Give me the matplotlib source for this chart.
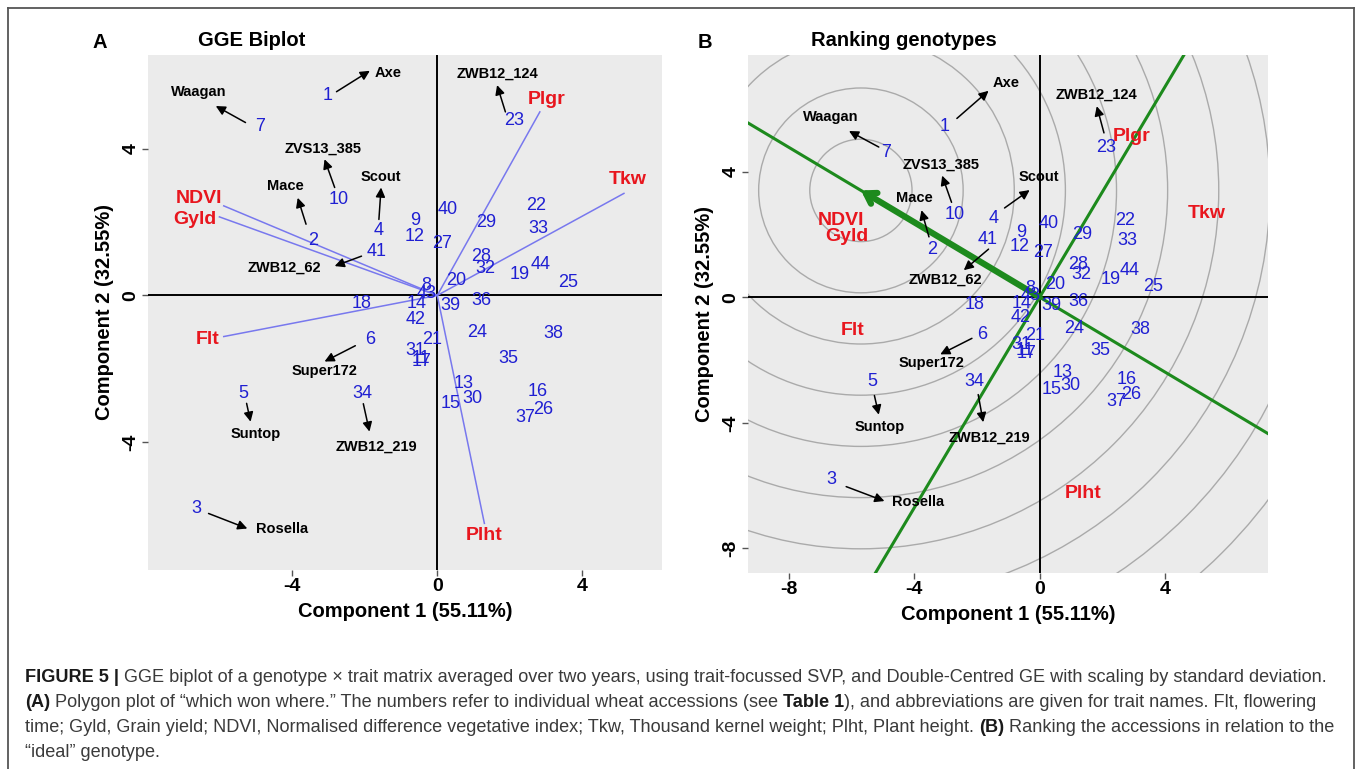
import matplotlib
matplotlib.use('Agg')
import matplotlib.pyplot as plt
from matplotlib.patches import Circle
from matplotlib.lines import Line2D
import numpy as np

plt.rcParams['font.family'] = ['Liberation Sans', 'DejaVu Sans']
plt.rcParams['axes.unicode_minus'] = False

W, H, DPI = 1358, 769, 100

# ---------------- data ----------------
genotype_ids = [1, 2, 3, 4, 5, 6, 7, 8, 9, 10, 11, 12, 13, 14, 15, 16, 17, 18, 19, 20, 21, 22,
                23, 24, 25, 26, 27, 28, 29, 30, 31, 32, 33, 34, 35, 36, 37, 38, 39, 40, 41, 42, 43, 44]
comp1 = [-3.02, -3.43, -6.65, -1.62, -5.34, -1.84, -4.90, -0.30, -0.60, -2.71, -0.46, -0.63,
         0.72, -0.56, 0.37, 2.78, -0.42, -2.09, 2.27, 0.51, -0.14, 2.74, 2.13, 1.10, 3.62, 2.92,
         0.12, 1.21, 1.35, 0.97, -0.60, 1.32, 2.78, -2.07, 1.95, 1.23, 2.43, 3.20, 0.37, 0.30,
         -1.67, -0.60, -0.28, 2.86]
comp2 = [5.44, 1.51, -5.80, 1.78, -2.68, -1.19, 4.60, 0.27, 2.05, 2.62, -1.71, 1.60,
         -2.41, -0.21, -2.95, -2.62, -1.80, -0.23, 0.56, 0.42, -1.21, 2.44, 4.77, -1.01, 0.35, -3.10,
         1.42, 1.05, 2.00, -2.80, -1.50, 0.73, 1.82, -2.68, -1.71, -0.14, -3.32, -1.03, -0.28, 2.35,
         1.21, -0.66, 0.05, 0.85]

trait_names = ['NDVI', 'Gyld', 'Plgr', 'Tkw', 'Flt', 'Plht']
trait_comp1 = [-5.89, -6.01, 2.83, 5.15, -5.89, 1.30]
trait_comp2 = [2.44, 2.14, 5.00, 2.78, -1.12, -6.21]

named_genotypes = ['Axe', 'Waagan', 'ZVS13_385', 'Mace', 'Scout', 'ZWB12_62', 'ZWB12_124',
                   'Super172', 'Suntop', 'ZWB12_219', 'Rosella']
named_ids = [1, 7, 10, 2, 4, 41, 23, 6, 5, 34, 3]

ideal_genotype = (-5.7, 3.4)
circle_step = 1.63
n_circles = 11
pct1, pct2 = 55.11, 32.55

# ---------------- layout (offsets, styles) ----------------
# annotation arrows: tail, head, text offsets (data units) relative to the genotype label
annA = [((0.24, 0.11), (1.16, 0.68), (1.67, 0.61)),
        ((-0.39, 0.11), (-1.21, 0.56), (-1.69, 0.95)),
        ((-0.12, 0.32), (-0.40, 1.09), (-0.45, 1.38)),
        ((-0.19, 0.43), (-0.42, 1.15), (-0.76, 1.47)),
        ((0.01, 0.29), (0.07, 1.16), (0.06, 1.46)),
        ((-0.42, -0.14), (-1.16, -0.41), (-2.55, -0.46)),
        ((-0.25, 0.23), (-0.48, 0.96), (-0.46, 1.28)),
        ((-0.42, -0.18), (-1.27, -0.61), (-1.27, -0.86)),
        ((0.08, -0.26), (0.19, -0.76), (0.33, -1.09)),
        ((0.03, -0.27), (0.20, -1.03), (0.38, -1.44)),
        ((0.34, -0.14), (1.41, -0.55), (2.38, -0.55))]
annB = [((0.38, 0.25), (1.39, 1.13), (1.94, 1.39)),
        ((-0.23, 0.18), (-1.18, 0.69), (-1.75, 1.14)),
        ((-0.10, 0.40), (-0.40, 1.25), (-0.42, 1.60)),
        ((-0.10, 0.41), (-0.34, 1.26), (-0.55, 1.64)),
        ((0.34, 0.34), (1.14, 0.91), (1.44, 1.34)),
        ((0.02, -0.32), (-0.77, -0.99), (-1.34, -1.28)),
        ((-0.08, 0.46), (-0.31, 1.31), (-0.31, 1.69)),
        ((-0.32, -0.12), (-1.33, -0.63), (-1.60, -0.92)),
        ((0.07, -0.45), (0.21, -1.06), (0.25, -1.44)),
        ((0.11, -0.42), (0.27, -1.30), (0.48, -1.78)),
        ((0.48, -0.23), (1.70, -0.69), (2.77, -0.72))]
# label nudges used in panel B only
nudgeB = {4: (0.16, 0.72), 41: (0.02, 0.64)}
trait_label_offA = [(-0.68, 0.20), (-0.67, -0.07), (0.19, 0.35), (0.09, 0.38), (-0.45, -0.07), (-0.02, -0.32)]
trait_label_offB = [(-0.43, 0.01), (-0.15, -0.22), (0.11, 0.12), (0.17, -0.11), (-0.09, 0.07), (0.10, -0.03)]

BLUE = '#1f1fd2'
RED = '#e8161e'
VEC = '#7878ee'
GREEN = '#1d8a1d'
BG = '#ebebeb'

fig = plt.figure(figsize=(W / DPI, H / DPI), dpi=DPI)


def px_axes(l, t, r, b):
    return fig.add_axes([l / W, 1 - b / H, (r - l) / W, (b - t) / H])


def style(ax, xlim, ylim, xt, yt):
    ax.set_facecolor(BG)
    ax.set_xlim(xlim)
    ax.set_ylim(ylim)
    for s in ax.spines.values():
        s.set_visible(False)
    ax.set_xticks(xt)
    ax.set_yticks(yt)
    ax.set_xticklabels([str(v) for v in xt], fontweight='bold', fontsize=14)
    ax.set_yticklabels([str(v) for v in yt], fontweight='bold', fontsize=14, rotation=90, va='center')
    ax.tick_params(axis='both', length=4, width=1, color='#555555', pad=2)
    ax.axhline(0, color='black', lw=1.4, zorder=2)
    ax.axvline(0, color='black', lw=1.4, zorder=2)
    ax.set_xlabel(f'Component 1 ({pct1:.2f}%)', fontweight='bold', fontsize=14.5, labelpad=5)
    ax.set_ylabel(f'Component 2 ({pct2:.2f}%)', fontweight='bold', fontsize=14.5, labelpad=6)


def draw_genotypes(ax, nudge):
    pos = {}
    for gid, x, y in zip(genotype_ids, comp1, comp2):
        dx, dy = nudge.get(gid, (0, 0))
        pos[gid] = (x + dx, y + dy)
        ax.text(x + dx, y + dy, str(gid), color=BLUE, fontsize=13, ha='center', va='center', zorder=5)
    return pos


def draw_names(ax, pos, ann):
    for name, gid, (tail, head, txt) in zip(named_genotypes, named_ids, ann):
        gx, gy = pos[gid]
        ax.annotate('', xy=(gx + head[0], gy + head[1]), xytext=(gx + tail[0], gy + tail[1]),
                    arrowprops=dict(arrowstyle='-|>', color='black', lw=1.1, mutation_scale=14,
                                    shrinkA=0, shrinkB=0), zorder=6)
        ax.text(gx + txt[0], gy + txt[1], name, fontweight='bold', fontsize=10.5,
                ha='center', va='center', zorder=6)


# ---------------- Panel A ----------------
axA = px_axes(148, 55, 662, 570)
style(axA, (-7.98, 6.2), (-7.48, 6.55), [-4, 0, 4], [-4, 0, 4])
for tn, tx, ty, off in zip(trait_names, trait_comp1, trait_comp2, trait_label_offA):
    axA.plot([0, tx], [0, ty], color=VEC, lw=1.1, zorder=3)
    axA.text(tx + off[0], ty + off[1], tn, color=RED, fontweight='bold', fontsize=14,
             ha='center', va='center', zorder=6)
posA = draw_genotypes(axA, {})
draw_names(axA, posA, annA)

# ---------------- Panel B ----------------
axB = px_axes(748, 55, 1268, 573)
style(axB, (-9.3, 7.28), (-8.78, 7.71), [-8, -4, 0, 4], [-8, -4, 0, 4])
for k in range(1, n_circles + 1):
    axB.add_patch(Circle(ideal_genotype, k * circle_step, fill=False, ec='#aaaaaa', lw=1.0, zorder=1))
ix, iy = ideal_genotype
nrm = np.hypot(ix, iy)
ux, uy = ix / nrm, iy / nrm
L = 40
axB.plot([-L * ux, L * ux], [-L * uy, L * uy], color=GREEN, lw=2.2, zorder=3)
axB.plot([-L * uy, L * uy], [L * ux, -L * ux], color=GREEN, lw=2.2, zorder=3)
axB.annotate('', xy=ideal_genotype, xytext=(0, 0),
             arrowprops=dict(arrowstyle='->,head_length=0.7,head_width=0.45', color=GREEN, lw=4.5,
                             shrinkA=0, shrinkB=0), zorder=4)
posB = draw_genotypes(axB, nudgeB)
for tn, tx, ty, off in zip(trait_names, trait_comp1, trait_comp2, trait_label_offB):
    axB.text(tx + off[0], ty + off[1], tn, color=RED, fontweight='bold', fontsize=14,
             ha='center', va='center', zorder=6)
draw_names(axB, posB, annB)

# ---------------- titles / panel letters ----------------
fig.text(100 / W, 1 - 42 / H, 'A', fontweight='bold', fontsize=14.5, ha='center', va='center')
fig.text(252 / W, 1 - 40 / H, 'GGE Biplot', fontweight='bold', fontsize=14.5, ha='center', va='center')
fig.text(705 / W, 1 - 42 / H, 'B', fontweight='bold', fontsize=14.5, ha='center', va='center')
fig.text(904 / W, 1 - 40 / H, 'Ranking genotypes', fontweight='bold', fontsize=14.5, ha='center', va='center')

# ---------------- frame ----------------
fc = '#555555'
for xs, ys in [([8, 8], [8, 769]), ([8, 1354], [8, 8]), ([1354, 1354], [8, 769])]:
    fig.add_artist(Line2D([x / W for x in xs], [1 - y / H for y in ys], color=fc, lw=1.3,
                          transform=fig.transFigure))

# ---------------- caption ----------------
caption = [
    [('FIGURE 5 | ', 'bold'), ('GGE biplot of a genotype \u00d7 trait matrix averaged over two years, using trait-focussed SVP, and Double-Centred GE with scaling by standard deviation.', 'normal')],
    [('(A)', 'bold'), (' Polygon plot of \u201cwhich won where.\u201d The numbers refer to individual wheat accessions (see ', 'normal'),
     ('Table 1', 'bold'), ('), and abbreviations are given for trait names. Flt, flowering', 'normal')],
    [('time; Gyld, Grain yield; NDVI, Normalised difference vegetative index; Tkw, Thousand kernel weight; Plht, Plant height. ', 'normal'),
     ('(B)', 'bold'), (' Ranking the accessions in relation to the', 'normal')],
    [('\u201cideal\u201d genotype.', 'normal')],
]
baselines = [682, 707, 732, 757]
renderer = fig.canvas.get_renderer()


def advance(s, size, weight):
    t = fig.text(0, 0, s + '|', fontsize=size, fontweight=weight)
    w1 = t.get_window_extent(renderer).width
    t.set_text('|')
    w2 = t.get_window_extent(renderer).width
    t.remove()
    return w1 - w2


base_size = 12.0
w_line1 = sum(advance(s, base_size, wt) for s, wt in caption[0])
cap_size = base_size * (1330 - 25) / w_line1
for runs, yb in zip(caption, baselines):
    x = 25
    for s, wt in runs:
        fig.text(x / W, 1 - yb / H, s, fontsize=cap_size, fontweight=wt, ha='left', va='baseline',
                 color='#1a1a1a' if wt == 'bold' else '#3a3a3a')
        x += advance(s, cap_size, wt)

fig.savefig('out.png', dpi=DPI)
